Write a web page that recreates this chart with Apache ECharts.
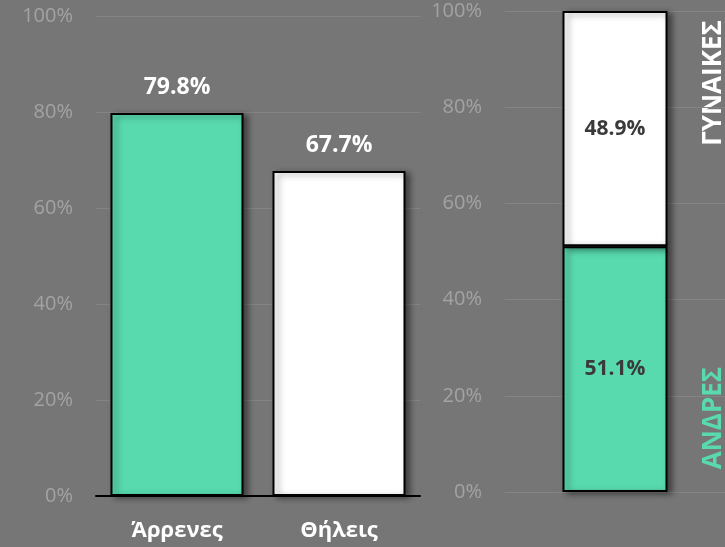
<!DOCTYPE html>
<html><head><meta charset="utf-8">
<script src="https://cdn.jsdelivr.net/npm/echarts@6/dist/echarts.min.js"></script>
<style>html,body{margin:0;padding:0;background:#767676;}#c{width:725px;height:547px;}</style>
</head><body><div id="c"></div>
<script>
const categories = ['Άρρενες', 'Θήλεις'];
const rateValues = [79.8, 67.7];
const shareNames = ['ΑΝΔΡΕΣ', 'ΓΥΝΑΙΚΕΣ'];
const shareMen = [51.1];
const shareWomen = [48.9];

const GREEN = '#58D9AE';
const WHITE = '#FFFFFF';
const FONT = 'Open Sans';
const shadow = {shadowColor:'rgba(0,0,0,0.45)', shadowBlur:6, shadowOffsetX:4, shadowOffsetY:2};

const chart = echarts.init(document.getElementById('c'), null, {renderer:'canvas'});
const yAxisCommon = {
  type:'value', min:0, max:100, interval:20,
  axisLabel:{formatter:v=>v+'%', color:'#a3a3a3', fontFamily:FONT, fontSize:20, margin:23},
  splitLine:{lineStyle:{color:'#848484', width:1}},
  axisLine:{show:false}, axisTick:{show:false}
};
chart.setOption({
  backgroundColor:'#767676',
  animation:false,
  grid:[
    {left:96, width:324, top:16, bottom:51},
    {left:505, width:261, top:11, bottom:55}
  ],
  xAxis:[
    {type:'category', gridIndex:0, data:categories,
     axisLine:{lineStyle:{color:'#000', width:2}}, axisTick:{show:false},
     axisLabel:{color:'#fff', fontFamily:FONT, fontWeight:'bold', fontSize:22, margin:24}},
    {type:'category', gridIndex:1, data:[''],
     axisLine:{show:false}, axisTick:{show:false}, axisLabel:{show:false}}
  ],
  yAxis:[
    Object.assign({gridIndex:0}, yAxisCommon),
    Object.assign({gridIndex:1}, yAxisCommon)
  ],
  series:[
    {type:'bar', xAxisIndex:0, yAxisIndex:0, barWidth:133,
     data:rateValues.map((v,i)=>({value:v, itemStyle:{color:i===0?GREEN:WHITE}})),
     itemStyle:Object.assign({borderColor:'#000', borderWidth:2}, shadow),
     label:{show:true, position:'top', distance:14, formatter:p=>p.value.toFixed(1)+'%',
       color:'#fff', fontFamily:FONT, fontWeight:'bold', fontSize:23}},
    {type:'bar', name:shareNames[0], xAxisIndex:1, yAxisIndex:1, stack:'s', barWidth:105,
     data:shareMen,
     itemStyle:Object.assign({color:GREEN, borderColor:'#000', borderWidth:2}, shadow),
     label:{show:true, position:'inside', formatter:p=>p.value.toFixed(1)+'%',
       color:'#3a3a3a', fontFamily:FONT, fontWeight:'bold', fontSize:21}},
    {type:'bar', name:shareNames[1], xAxisIndex:1, yAxisIndex:1, stack:'s', barWidth:105,
     data:shareWomen,
     itemStyle:Object.assign({color:WHITE, borderColor:'#000', borderWidth:2}, shadow),
     label:{show:true, position:'inside', formatter:p=>p.value.toFixed(1)+'%',
       color:'#3a3a3a', fontFamily:FONT, fontWeight:'bold', fontSize:21}}
  ],
  graphic:[
    {type:'text', x:714, y:83, rotation:Math.PI/2, style:{text:shareNames[1], fill:'#fff',
      font:'bold 26px "Open Sans"', align:'center', verticalAlign:'middle'}},
    {type:'text', x:714, y:418, rotation:Math.PI/2, style:{text:shareNames[0], fill:GREEN,
      font:'bold 26px "Open Sans"', align:'center', verticalAlign:'middle'}}
  ]
});
</script></body></html>
